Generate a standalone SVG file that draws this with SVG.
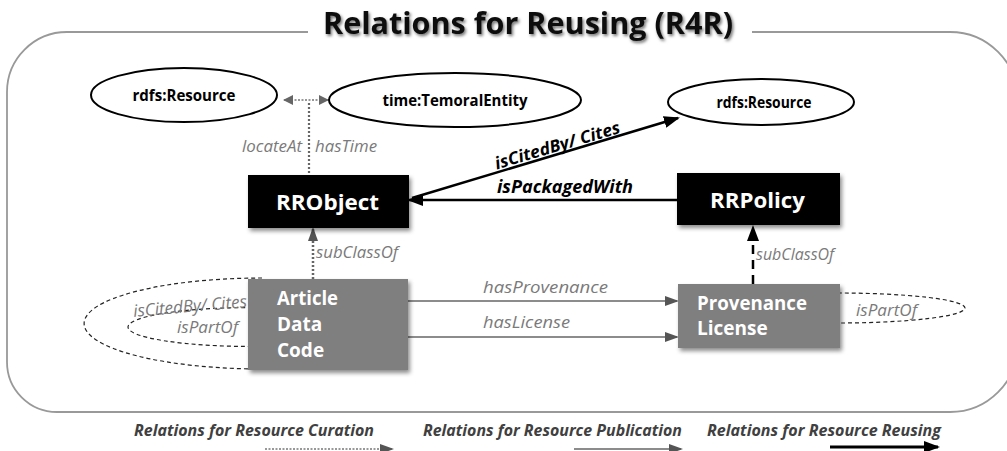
<svg xmlns="http://www.w3.org/2000/svg" width="1007" height="451" viewBox="0 0 1007 451">
<defs>
<style>
.ell{fill:#fff;stroke:#000;stroke-width:2}
.etxt{font-family:"Open Sans","Liberation Sans",sans-serif;font-weight:bold;font-size:16.5px;fill:#000;text-anchor:middle}
.box-dark{fill:#000}
.box-gray{fill:#7f7f7f}
.btxt{font-family:"Open Sans","Liberation Sans",sans-serif;font-weight:bold;fill:#fff}
.lbl{font-family:"Open Sans","Liberation Sans",sans-serif;font-style:italic;font-size:17px;fill:#7a7a7a}
.blbl{font-family:"Open Sans","Liberation Sans",sans-serif;font-style:italic;font-weight:bold;font-size:17px;fill:#000}
.leg{font-family:"Open Sans","Liberation Sans",sans-serif;font-style:italic;font-weight:bold;font-size:16.5px;fill:#404040}
.dash{fill:none;stroke:#222;stroke-width:1.2;stroke-dasharray:4 3}
</style>
<marker id="ahBlack" markerUnits="userSpaceOnUse" markerWidth="16" markerHeight="12" refX="14" refY="6" orient="auto"><path d="M0,0 L16,6 L0,12 Z" fill="#000"/></marker>
<marker id="ahGray" markerUnits="userSpaceOnUse" markerWidth="14" markerHeight="10" refX="12" refY="5" orient="auto"><path d="M0,0 L14,5 L0,10 Z" fill="#555"/></marker>
<marker id="ahSmall" markerUnits="userSpaceOnUse" markerWidth="10" markerHeight="10" refX="9" refY="5" orient="auto-start-reverse"><path d="M0,0 L10,5 L0,10 Z" fill="#666"/></marker>
<filter id="shadow" x="-10%" y="-10%" width="130%" height="140%"><feDropShadow dx="2" dy="3" stdDeviation="2" flood-color="#000" flood-opacity="0.45"/></filter>
<filter id="tshadow" x="-5%" y="-20%" width="110%" height="150%"><feDropShadow dx="1.5" dy="2" stdDeviation="1.5" flood-color="#000" flood-opacity="0.55"/></filter>
</defs>

<g id="frame">
<path d="M 308 32 H 67 A 60 60 0 0 0 7 92 V 362 A 50 50 0 0 0 57 412 H 950 A 68 68 0 0 0 1018 344 V 100 A 68 68 0 0 0 950 32 H 752" fill="none" stroke="#999" stroke-width="1.8"/>
<text x="528" y="34" font-family="'Open Sans','Liberation Sans',sans-serif" font-weight="bold" font-size="30" fill="#111" text-anchor="middle" textLength="410" lengthAdjust="spacingAndGlyphs" filter="url(#tshadow)">Relations for Reusing (R4R)</text>
</g>

<g id="connectors">
<path class="dash" d="M 262 278 A 178 45.5 0 0 0 262 369"/>
<path class="dash" d="M 252 307.5 A 124 19.5 0 0 0 252 346.5"/>
<path class="dash" d="M 838 293 A 127 15 0 0 1 838 323"/>
<text class="lbl" x="133" y="312" textLength="114" lengthAdjust="spacingAndGlyphs" transform="rotate(-5 190 307)">isCitedBy/ Cites</text>
<text class="lbl" x="177" y="333" textLength="61" lengthAdjust="spacingAndGlyphs">isPartOf</text>
<text class="lbl" x="856" y="316" textLength="61" lengthAdjust="spacingAndGlyphs">isPartOf</text>

<line x1="284" y1="100" x2="328" y2="100" stroke="#777" stroke-width="1.5" stroke-dasharray="2 1.5" marker-start="url(#ahSmall)" marker-end="url(#ahSmall)"/>
<line x1="309" y1="103" x2="309" y2="175" stroke="#666" stroke-width="2.2" stroke-dasharray="2 2"/>
<text class="lbl" x="302" y="152" text-anchor="end" textLength="60" lengthAdjust="spacingAndGlyphs">locateAt</text>
<text class="lbl" x="315" y="152" textLength="62" lengthAdjust="spacingAndGlyphs">hasTime</text>

<line x1="313" y1="279" x2="313" y2="229" stroke="#666" stroke-width="2.5" stroke-dasharray="2 2" marker-end="url(#ahGray)"/>
<text class="lbl" x="316" y="258" textLength="82" lengthAdjust="spacingAndGlyphs">subClassOf</text>

<line x1="753" y1="284" x2="753" y2="227" stroke="#000" stroke-width="2.5" stroke-dasharray="9 6" marker-end="url(#ahBlack)"/>
<text class="lbl" x="756" y="260" textLength="78" lengthAdjust="spacingAndGlyphs">subClassOf</text>

<line x1="412" y1="198" x2="678" y2="118" stroke="#000" stroke-width="2.5" marker-end="url(#ahBlack)"/>
<text class="blbl" x="559" y="151" text-anchor="middle" textLength="130" lengthAdjust="spacingAndGlyphs" transform="rotate(-16.5 559 151)">isCitedBy/ Cites</text>
<line x1="677" y1="200" x2="409" y2="200" stroke="#000" stroke-width="2.5" marker-end="url(#ahBlack)"/>
<text class="blbl" x="497" y="193" textLength="136" lengthAdjust="spacingAndGlyphs">isPackagedWith</text>

<line x1="408" y1="301" x2="677" y2="301" stroke="#666" stroke-width="1.6" marker-end="url(#ahGray)"/>
<text class="lbl" x="483" y="293" textLength="125" lengthAdjust="spacingAndGlyphs">hasProvenance</text>
<line x1="408" y1="337" x2="677" y2="337" stroke="#666" stroke-width="1.6" marker-end="url(#ahGray)"/>
<text class="lbl" x="483" y="328" textLength="87" lengthAdjust="spacingAndGlyphs">hasLicense</text>
</g>

<g id="n-rdfs-left">
<ellipse class="ell" cx="184" cy="95" rx="93" ry="27"/>
<text class="etxt" x="184" y="101" textLength="103" lengthAdjust="spacingAndGlyphs">rdfs:Resource</text>
</g>
<g id="n-time">
<ellipse class="ell" cx="455" cy="100" rx="126" ry="27"/>
<text class="etxt" x="455" y="106" textLength="145" lengthAdjust="spacingAndGlyphs">time:TemoralEntity</text>
</g>
<g id="n-rdfs-right">
<ellipse class="ell" cx="761" cy="102" rx="93" ry="23"/>
<text class="etxt" x="764" y="108" textLength="95" lengthAdjust="spacingAndGlyphs">rdfs:Resource</text>
</g>

<g id="n-rrobject">
<rect class="box-dark" x="248" y="175" width="161" height="53" filter="url(#shadow)"/>
<text class="btxt" x="327.5" y="210" font-size="22" text-anchor="middle" textLength="103" lengthAdjust="spacingAndGlyphs">RRObject</text>
</g>
<g id="n-rrpolicy">
<rect class="box-dark" x="677" y="173" width="163" height="52" filter="url(#shadow)"/>
<text class="btxt" x="757.5" y="208" font-size="22" text-anchor="middle" textLength="95" lengthAdjust="spacingAndGlyphs">RRPolicy</text>
</g>
<g id="n-article">
<rect class="box-gray" x="248" y="279" width="160" height="91" filter="url(#shadow)"/>
<text class="btxt" x="277" y="305" font-size="19" textLength="61" lengthAdjust="spacingAndGlyphs">Article</text>
<text class="btxt" x="277" y="331" font-size="19">Data</text>
<text class="btxt" x="277" y="357" font-size="19">Code</text>
</g>
<g id="n-provenance">
<rect class="box-gray" x="678" y="284" width="162" height="64" filter="url(#shadow)"/>
<text class="btxt" x="697" y="310" font-size="19" textLength="110" lengthAdjust="spacingAndGlyphs">Provenance</text>
<text class="btxt" x="697" y="335" font-size="19">License</text>
</g>

<g id="legend">
<text class="leg" x="134" y="436" textLength="240" lengthAdjust="spacingAndGlyphs">Relations for Resource Curation</text>
<text class="leg" x="423" y="436" textLength="259" lengthAdjust="spacingAndGlyphs">Relations for Resource Publication</text>
<text class="leg" x="707" y="436" textLength="234" lengthAdjust="spacingAndGlyphs">Relations for Resource Reusing</text>
<line x1="265" y1="449" x2="392" y2="449" stroke="#777" stroke-width="1.5" stroke-dasharray="2 1.5" marker-end="url(#ahGray)"/>
<line x1="574" y1="449" x2="681" y2="449" stroke="#666" stroke-width="1.6" marker-end="url(#ahGray)"/>
<line x1="830" y1="447" x2="938" y2="447" stroke="#000" stroke-width="3" marker-end="url(#ahBlack)"/>
</g>
</svg>
